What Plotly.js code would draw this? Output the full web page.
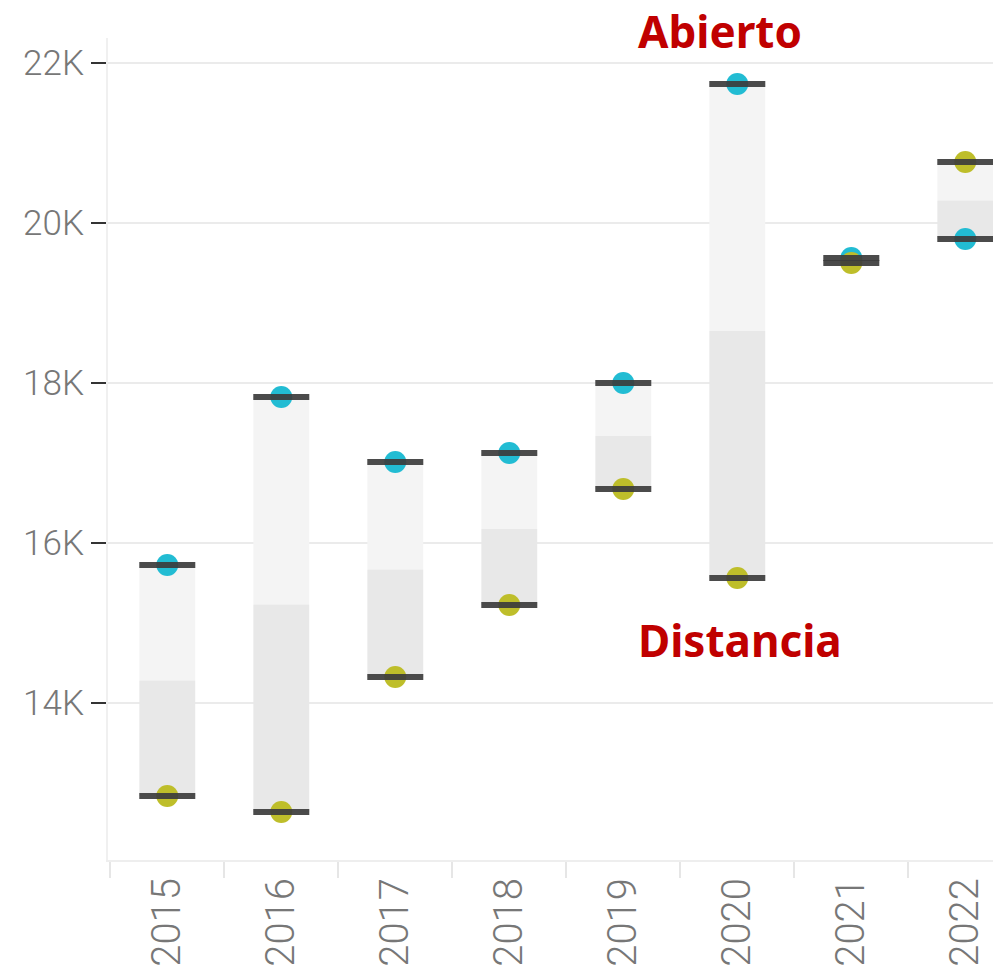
<!DOCTYPE html>
<html>
<head>
<meta charset="utf-8">
<script src="https://cdn.plot.ly/plotly-3.0.1.min.js"></script>
<style>html,body{margin:0;padding:0;background:#fff;}#chart{width:993px;height:974px;}</style>
</head>
<body>
<div id="chart"></div>
<script>
const years = ['2015','2016','2017','2018','2019','2020','2021','2022'];
const abierto = [15725, 17825, 17012, 17125, 18000, 21737, 19562, 19800];
const distancia = [12838, 12637, 14325, 15225, 16675, 15562, 19500, 20762];
const yTickVals = [14000, 16000, 18000, 20000, 22000];
const yTickText = ['14K', '16K', '18K', '20K', '22K'];

const hi = years.map((_, i) => Math.max(abierto[i], distancia[i]));
const lo = years.map((_, i) => Math.min(abierto[i], distancia[i]));
const mid = years.map((_, i) => (hi[i] + lo[i]) / 2);

const boxW = 0.49;
const traces = [
  { type: 'bar', x: years, base: mid, y: years.map((_, i) => hi[i] - mid[i]), width: boxW,
    marker: { color: '#f4f4f4', line: { width: 0 } }, hoverinfo: 'skip' },
  { type: 'bar', x: years, base: lo, y: years.map((_, i) => mid[i] - lo[i]), width: boxW,
    marker: { color: '#e8e8e8', line: { width: 0 } }, hoverinfo: 'skip' },
  { type: 'scatter', mode: 'markers', x: years, y: abierto, name: 'Abierto',
    marker: { color: '#22bcd3', size: 22 } },
  { type: 'scatter', mode: 'markers', x: years, y: distancia, name: 'Distancia',
    marker: { color: '#bebe2a', size: 22 } },
  { type: 'scatter', mode: 'markers', x: years.concat(years), y: abierto.concat(distancia),
    marker: { symbol: 'line-ew', size: 40, line: { width: 6, color: 'rgba(60,60,60,0.92)' } },
    hoverinfo: 'skip' }
];

const layout = {
  width: 993, height: 974,
  margin: { l: 108, r: 0, t: 38, b: 114 },
  paper_bgcolor: '#fff', plot_bgcolor: '#fff',
  showlegend: false,
  barmode: 'overlay',
  font: { family: 'Roboto, sans-serif', color: '#777' },
  xaxis: {
    type: 'category', range: [-0.52, 7.243], fixedrange: true,
    tickson: 'boundaries', ticks: 'outside', ticklen: 16, tickcolor: '#e6e6e6', tickwidth: 2,
    showline: true, linecolor: '#eeeeee', linewidth: 2,
    showgrid: false, tickangle: -90,
    tickfont: { family: 'Roboto, sans-serif', size: 40, color: '#777', weight: 300 }
  },
  yaxis: {
    range: [12037.5, 22312.5], fixedrange: true,
    tickvals: yTickVals, ticktext: yTickText,
    ticks: 'outside', ticklen: 15, tickcolor: '#333', tickwidth: 2,
    showline: true, linecolor: '#f0f0f0', linewidth: 2,
    showgrid: true, gridcolor: '#ebebeb', gridwidth: 2, zeroline: false,
    tickfont: { family: 'Roboto, sans-serif', size: 35, color: '#777', weight: 300 }
  },
  annotations: [
    { xref: 'paper', yref: 'paper', x: (720 - 108) / 885, y: 1 + (38 - 31) / 822,
      text: 'Abierto', showarrow: false, xanchor: 'center', yanchor: 'middle',
      font: { family: 'Noto Sans, sans-serif', size: 44, color: '#c00000', weight: 700 } },
    { xref: 'paper', yref: 'paper', x: (740 - 108) / 885, y: (860 - 640) / 822,
      text: 'Distancia', showarrow: false, xanchor: 'center', yanchor: 'middle',
      font: { family: 'Noto Sans, sans-serif', size: 44, color: '#c00000', weight: 700 } }
  ]
};

Plotly.newPlot('chart', traces, layout, { displayModeBar: false, staticPlot: true });
</script>
</body>
</html>
